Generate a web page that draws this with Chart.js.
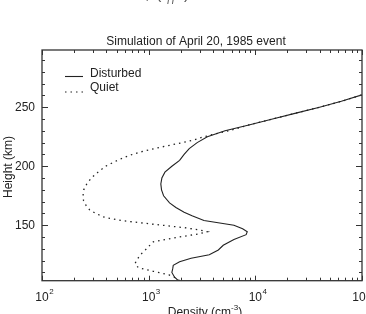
<!DOCTYPE html>
<html>
<head>
<meta charset="utf-8">
<script src="https://cdn.jsdelivr.net/npm/chart.js@4/dist/chart.umd.min.js"></script>
<style>
  html, body { margin: 0; padding: 0; background: #fff; }
  canvas { display: block; }
</style>
</head>
<body>
<canvas id="profileChart" width="366" height="314"></canvas>
<script>
// Dữ liệu (mật độ cm^-3 theo độ cao km)
const disturbedHeight = [103, 106, 110, 113, 116, 119, 122, 125, 129, 133, 138, 142, 144.5, 147, 150, 154, 158, 161, 165, 169, 175, 180, 185, 190, 195, 200, 205, 210, 215, 220, 225, 230, 235, 240, 245, 250, 255, 260.5];
const disturbedDensity = [1900, 1750, 1650, 1680, 1700, 1950, 2500, 3700, 4500, 5000, 6300, 8200, 8400, 7600, 6300, 3300, 2550, 2150, 1800, 1570, 1380, 1320, 1300, 1330, 1420, 1650, 1950, 2150, 2400, 2850, 3550, 5200, 8700, 14500, 24000, 40000, 64000, 100000];

const quietHeight = [103, 105, 108, 111, 114, 117.6, 121, 125, 130, 134, 136, 138, 140.2, 142.5, 144.5, 146, 147.7, 151, 154, 157, 160, 163, 167, 171, 176, 180, 185, 190, 195, 200, 205, 209, 212, 216, 219.6, 222.4, 224, 227, 230.3, 235, 240, 245, 250, 255, 260.5];
const quietDensity = [1950, 1830, 1550, 1100, 800, 745, 780, 835, 955, 1050, 1107, 1450, 1970, 2900, 3550, 3000, 2270, 1070, 550, 376, 320, 280, 258, 245, 243, 246, 263, 290, 335, 395, 510, 650, 830, 1276, 1970, 2700, 3030, 4000, 5780, 8700, 14500, 24000, 40000, 64000, 100000];

const xTickValues = [100, 1000, 10000, 100000];
const xTickExponents = ["2", "3", "4", "5"];
const yTickValues = [150, 200, 250];
const seriesLabels = ["Disturbed", "Quiet"];

const inkColor = "#222";
const fontFamily = "'Liberation Sans', Arial, Helvetica, sans-serif";

function toPoints(heights, densities) {
    return heights.map((h, i) => ({ x: densities[i], y: h }));
}

// Khung, vạch chia, nhãn và chú thích
const framePlugin = {
    id: "frame",
    afterDraw(chart) {
        const { ctx, chartArea: a, scales } = chart;
        const xs = scales.x, ys = scales.y;
        ctx.save();

        // khung
        ctx.strokeStyle = "#333";
        ctx.lineWidth = 1.3;
        ctx.strokeRect(a.left, a.top, a.right - a.left, a.bottom - a.top);

        // vạch trục x (log), cả trên và dưới
        ctx.lineWidth = 1;
        ctx.beginPath();
        for (let d = 0; d < xTickValues.length; d++) {
            const base = xTickValues[d];
            const maxM = d === xTickValues.length - 1 ? 1 : 9;
            for (let m = 1; m <= maxM; m++) {
                const px = Math.round(xs.getPixelForValue(base * m)) + 0.5;
                const len = m === 1 ? 5 : 3;
                ctx.moveTo(px, a.bottom);
                ctx.lineTo(px, a.bottom - len);
                ctx.moveTo(px, a.top);
                ctx.lineTo(px, a.top + len);
            }
        }
        // vạch trục y, trái và phải
        for (let h = 110; h <= 290; h += 10) {
            const py = Math.round(ys.getPixelForValue(h)) + 0.5;
            const len = yTickValues.includes(h) ? 6 : 3;
            ctx.moveTo(a.left, py);
            ctx.lineTo(a.left + len, py);
            ctx.moveTo(a.right, py);
            ctx.lineTo(a.right - len, py);
        }
        ctx.stroke();

        // nhãn trục x dạng 10^n
        ctx.fillStyle = inkColor;
        ctx.textBaseline = "alphabetic";
        xTickValues.forEach((v, i) => {
            const px = xs.getPixelForValue(v);
            ctx.font = "12px " + fontFamily;
            ctx.textAlign = "center";
            const w = ctx.measureText("10").width;
            // nhãn cuối lệch trái một chút như bản gốc
            const cx = i === xTickValues.length - 1 ? px - 3 : px;
            ctx.fillText("10", cx, 300.5);
            ctx.font = "8px " + fontFamily;
            ctx.textAlign = "left";
            ctx.fillText(xTickExponents[i], cx + w / 2 + 0.5, 294);
        });

        // tiêu đề
        ctx.font = "12px " + fontFamily;
        ctx.textAlign = "center";
        ctx.fillText("Simulation of April 20, 1985 event", 196, 45);

        // tiêu đề trục x
        const t1 = "Density (cm", t2 = "-3", t3 = ")";
        ctx.font = "12px " + fontFamily;
        const w1 = ctx.measureText(t1).width, w3 = ctx.measureText(t3).width;
        ctx.font = "8px " + fontFamily;
        const w2 = ctx.measureText(t2).width;
        let tx = 205 - (w1 + w2 + w3) / 2;
        ctx.textAlign = "left";
        ctx.font = "12px " + fontFamily;
        ctx.fillText(t1, tx, 315.5);
        ctx.font = "8px " + fontFamily;
        ctx.fillText(t2, tx + w1, 310);
        ctx.font = "12px " + fontFamily;
        ctx.fillText(t3, tx + w1 + w2, 315.5);

        // tiêu đề trục y
        ctx.save();
        ctx.translate(12, 167);
        ctx.rotate(-Math.PI / 2);
        ctx.textAlign = "center";
        ctx.fillText("Height (km)", 0, 0);
        ctx.restore();

        // chú thích
        ctx.strokeStyle = inkColor;
        ctx.lineWidth = 1.1;
        ctx.beginPath();
        ctx.moveTo(65, 76.5);
        ctx.lineTo(83, 76.5);
        ctx.stroke();
        ctx.setLineDash([1.5, 4]);
        ctx.beginPath();
        ctx.moveTo(65, 92);
        ctx.lineTo(84, 92);
        ctx.stroke();
        ctx.setLineDash([]);
        ctx.textAlign = "left";
        ctx.fillText(seriesLabels[0], 90, 77);
        ctx.fillText(seriesLabels[1], 90, 91);

        // mảnh công thức bị cắt ở đầu trang
        ctx.fillStyle = "#555";
        ctx.font = "16px " + fontFamily;
        ctx.fillText(",", 145, -1);
        ctx.fillText("(", 156, -1);
        ctx.fillText(")", 184, -1);
        ctx.font = "italic 10px " + fontFamily;
        ctx.fillText("H", 167, 3.5);

        ctx.restore();
    }
};

new Chart(document.getElementById("profileChart"), {
    type: "scatter",
    data: {
        datasets: [
            {
                label: seriesLabels[0],
                data: toPoints(disturbedHeight, disturbedDensity),
                showLine: true,
                borderColor: inkColor,
                borderWidth: 1.1,
                pointRadius: 0,
                tension: 0
            },
            {
                label: seriesLabels[1],
                data: toPoints(quietHeight, quietDensity),
                showLine: true,
                borderColor: inkColor,
                borderWidth: 1.3,
                borderDash: [1.5, 4],
                pointRadius: 0,
                tension: 0
            }
        ]
    },
    options: {
        responsive: false,
        animation: false,
        layout: { padding: { top: 50, right: 4, left: 0, bottom: 0 } },
        plugins: {
            legend: { display: false },
            title: { display: false },
            tooltip: { enabled: false }
        },
        scales: {
            x: {
                type: "logarithmic",
                position: "bottom",
                min: 100,
                max: 100000,
                grid: { display: false, drawTicks: false },
                border: { display: false },
                ticks: { display: false },
                afterFit: (s) => { s.height = 33.3; }
            },
            y: {
                type: "linear",
                position: "left",
                min: 103,
                max: 298.5,
                grid: { display: false, drawTicks: false },
                border: { display: false },
                afterBuildTicks: (s) => { s.ticks = yTickValues.map(v => ({ value: v })); },
                ticks: {
                    color: inkColor,
                    padding: 7,
                    font: { size: 12, family: fontFamily }
                },
                afterFit: (s) => { s.width = 42; }
            }
        }
    },
    plugins: [framePlugin]
});
</script>
</body>
</html>
